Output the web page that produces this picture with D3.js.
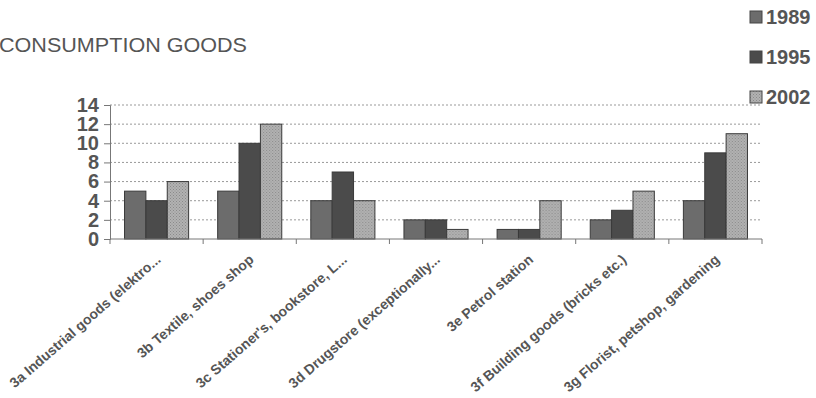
<!DOCTYPE html>
<html lang="en">
<head>
<meta charset="UTF-8">
<title>Consumption goods</title>
<script src="https://cdn.jsdelivr.net/npm/d3@7"></script>
<style>
    body { margin: 0; background: #fff; }
    text { font-family: "Liberation Sans", Arial, sans-serif; fill: #555; }
</style>
</head>
<body>
<div id="chart"></div>
<script>
    var categories = ["3a Industrial goods (elektro...", "3b Textile, shoes shop", "3c Stationer's, bookstore, L...",
        "3d Drugstore (exceptionally...", "3e Petrol station", "3f Building goods (bricks etc.)",
        "3g Florist, petshop, gardening"];
    var years = ["1989", "1995", "2002"];
    var v1989 = [5, 5, 4, 2, 1, 2, 4];
    var v1995 = [4, 10, 7, 2, 1, 3, 9];
    var v2002 = [6, 12, 4, 1, 4, 5, 11];
    var yTicks = [0, 2, 4, 6, 8, 10, 12, 14];

    var width = 816, height = 398;
    var plotL = 110, plotR = 762, plotT = 105, plotB = 239;

    var svg = d3.select("#chart").append("svg")
        .attr("width", width)
        .attr("height", height);

    // dotted fill for the 2002 bars
    var pat = svg.append("defs").append("pattern")
        .attr("id", "dots")
        .attr("width", 3).attr("height", 3)
        .attr("patternUnits", "userSpaceOnUse");
    pat.append("rect").attr("width", 3).attr("height", 3).attr("fill", "#b2b2b2");
    pat.append("rect").attr("x", 0).attr("y", 0).attr("width", 1).attr("height", 1).attr("fill", "#8a8a8a");
    pat.append("rect").attr("x", 1.5).attr("y", 1.5).attr("width", 1).attr("height", 1).attr("fill", "#8e8e8e");

    var colors = {"1989": "#6c6c6c", "1995": "#4b4b4b", "2002": "url(#dots)"};

    var x0 = d3.scaleBand().domain(categories).range([plotL, plotR]);
    var x1 = d3.scaleBand().domain(years).range([0, x0.bandwidth()]).paddingOuter(0.68);
    var y = d3.scaleLinear().domain([0, 14]).range([plotB, plotT]);

    // grid
    svg.append("g").selectAll("line")
        .data(yTicks.filter(function (d) { return d > 0; }))
        .enter().append("line")
        .attr("x1", plotL).attr("x2", plotR)
        .attr("y1", function (d) { return y(d); })
        .attr("y2", function (d) { return y(d); })
        .attr("stroke", "#999")
        .attr("stroke-dasharray", "2,2");

    // y axis
    var yAxis = d3.axisLeft(y).tickValues(yTicks).tickSize(6).tickPadding(5);
    var gy = svg.append("g").attr("transform", "translate(" + plotL + ",0)").call(yAxis);
    gy.select(".domain").attr("stroke", "#777");
    gy.selectAll(".tick line").attr("stroke", "#777");
    gy.selectAll("text")
        .style("font-size", "20px").style("font-weight", "bold")
        .attr("fill", "#555");

    // bars
    var data = [v1989, v1995, v2002];
    var groups = svg.append("g").selectAll("g")
        .data(categories)
        .enter().append("g")
        .attr("transform", function (d) { return "translate(" + x0(d) + ",0)"; });

    groups.selectAll("rect")
        .data(function (d, i) {
            return years.map(function (yr, j) { return {year: yr, value: data[j][i]}; });
        })
        .enter().append("rect")
        .attr("x", function (d) { return x1(d.year); })
        .attr("y", function (d) { return y(d.value); })
        .attr("width", x1.bandwidth())
        .attr("height", function (d) { return y(0) - y(d.value); })
        .attr("fill", function (d) { return colors[d.year]; })
        .attr("stroke", "#3a3a3a")
        .attr("stroke-width", 1);

    // x axis
    var gx = svg.append("g").attr("transform", "translate(0," + plotB + ")");
    gx.append("line").attr("x1", plotL).attr("x2", plotR).attr("stroke", "#777");
    gx.selectAll(".tk")
        .data(categories.concat(["end"]))
        .enter().append("line")
        .attr("class", "tk")
        .attr("x1", function (d, i) { return plotL + i * x0.bandwidth(); })
        .attr("x2", function (d, i) { return plotL + i * x0.bandwidth(); })
        .attr("y1", 0).attr("y2", 5)
        .attr("stroke", "#777");

    gx.selectAll(".lbl")
        .data(categories)
        .enter().append("text")
        .attr("class", "lbl")
        .attr("text-anchor", "end")
        .attr("transform", function (d) {
            return "translate(" + (x0(d) + x0.bandwidth() / 2 + 5) + ",22) rotate(-41)";
        })
        .style("font-size", "14px").style("font-weight", "bold")
        .attr("fill", "#606060")
        .text(function (d) { return d; });

    // title
    svg.append("text")
        .attr("x", -1).attr("y", 52)
        .attr("textLength", 248).attr("lengthAdjust", "spacingAndGlyphs")
        .style("font-size", "20px")
        .attr("fill", "#555")
        .text("CONSUMPTION GOODS");

    // legend
    var leg = svg.append("g").selectAll("g")
        .data(years)
        .enter().append("g")
        .attr("transform", function (d, i) { return "translate(750," + (11 + i * 40) + ")"; });
    leg.append("rect")
        .attr("width", 12).attr("height", 12)
        .attr("fill", function (d) { return colors[d]; })
        .attr("stroke", "#444");
    leg.append("text")
        .attr("x", 16).attr("y", 6).attr("dy", "0.35em")
        .style("font-size", "20px").style("font-weight", "bold")
        .attr("fill", "#555")
        .text(function (d) { return d; });
</script>
</body>
</html>
